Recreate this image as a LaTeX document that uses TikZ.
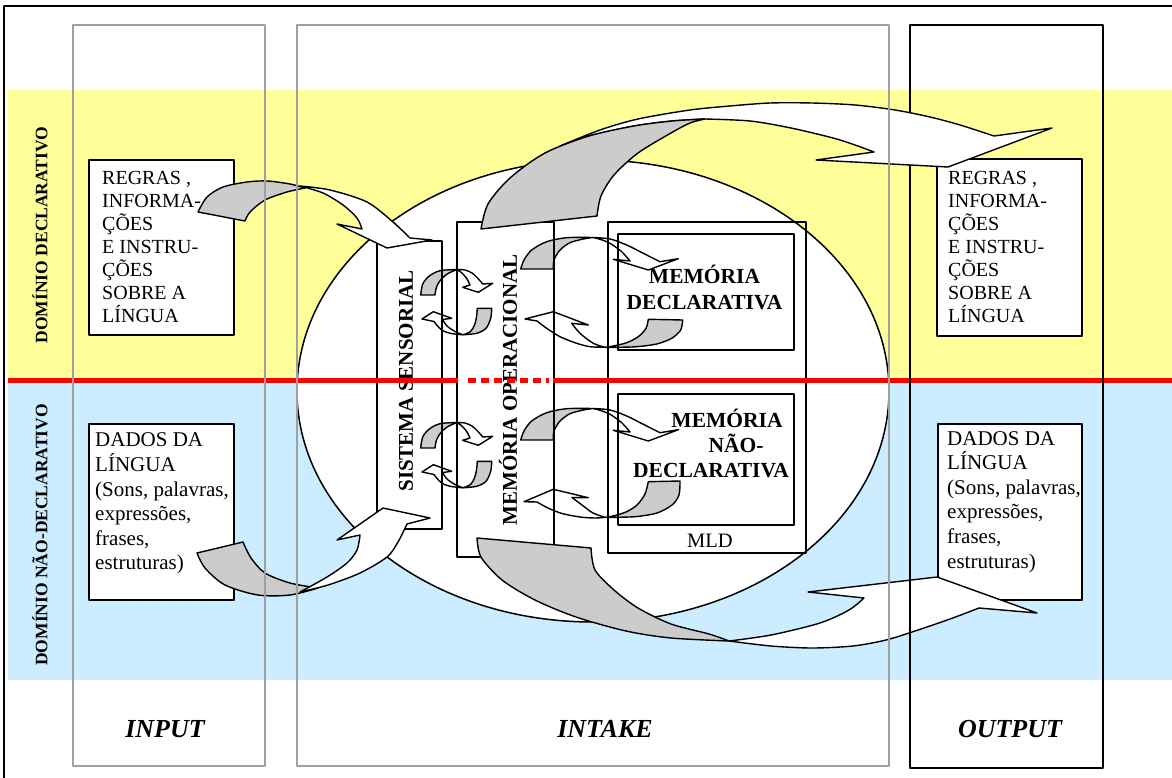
\documentclass[tikz,border=0pt]{standalone}
\usepackage{fontspec}
\setmainfont{Liberation Serif}
\definecolor{bandyellow}{HTML}{FFFF99}
\definecolor{bandblue}{HTML}{CCECFF}
\definecolor{ribbongray}{HTML}{CCCCCC}
\definecolor{columngray}{HTML}{A0A0A0}
\definecolor{domainred}{HTML}{FF0000}

% one pair of small cycling arrows (upper arrow: tail left, head right;
% lower arrow: tail right, head left)
\newcommand\smallcycleA{%
  \filldraw[backface] plot[smooth] coordinates {(420.7,295) (422.7,284) (429.3,276) (440,270.7) (457,269.5)}
    -- plot[smooth] coordinates {(457,269.5) (448,273.5) (441,279.5) (436.5,287) (435,295)} -- cycle;
  \filldraw[frontface] plot[smooth] coordinates {(457,269.5) (465,270) (472,273) (478,278.5) (482.7,284)}
    -- (492.7,283.3) -- (478.3,292.3) -- (462.7,287.3) -- (470,285)
    -- plot[smooth] coordinates {(470,285) (467,279) (462.5,273.5) (457,269.5)} -- cycle;
  \filldraw[backface] plot[smooth] coordinates {(491.7,308.3) (490.7,318.3) (486,328.3) (476.7,333.3) (463,334.8)}
    -- plot[smooth] coordinates {(463,334.8) (470.5,331.5) (474.5,325) (476.5,317) (477.3,308.3)} -- cycle;
  \filldraw[frontface] plot[smooth] coordinates {(463,334.8) (450,333.3) (441.7,330) (436.7,325) (434,321.5)}
    -- (422,319) -- (433.3,311.7) -- (451.7,318.3) -- (442.5,319.5)
    -- plot[smooth] coordinates {(442.5,319.5) (447,326) (455,331.5) (463,334.8)} -- cycle;
}
\newcommand\largecycleUpper{%
  \filldraw[backface] plot[smooth] coordinates {(520.7,269) (524,260) (531.7,250) (546.7,241.7) (566.7,237.7) (593,237.5)}
    -- plot[smooth] coordinates {(593,237.5) (583.3,239) (570,242.7) (560,250) (554,260) (553.3,269)} -- cycle;
  \filldraw[frontface] plot[smooth] coordinates {(593,237.5) (610,239) (626.7,245) (643.3,253.3) (660,261.7)}
    -- (678.3,258.7) -- (648.3,270) -- (613.3,259.3) -- (630,261)
    -- plot[smooth] coordinates {(630,261) (621.7,251.7) (610,243.3) (600,239.3) (593,237.5)} -- cycle;
}

\begin{document}
\begin{tikzpicture}[x=1pt,y=-1pt,line join=round,
  ribbon/.style={draw=black,line width=1.4pt},
  backface/.style={ribbon,fill=ribbongray},
  frontface/.style={ribbon,fill=white},
  column/.style={draw=columngray,line width=1.8pt},
  outcolumn/.style={draw=black,line width=1.8pt},
  framebox/.style={draw=black,line width=1.6pt,rectangle,inner sep=0pt,anchor=north west},
  boxtext/.style={align=left,anchor=north west,inner sep=0pt},
  rulesfont/.style={font=\fontsize{20}{23}\selectfont},
  datafont/.style={font=\fontsize{21}{24.6}\selectfont},
  verticallabel/.style={rotate=90,font=\fontsize{21}{25}\selectfont\bfseries,inner sep=0pt},
  domainlabel/.style={rotate=90,font=\fontsize{17.5}{20}\selectfont\bfseries,inner sep=0pt},
  memlabel/.style={anchor=base,inner sep=0pt,font=\fontsize{21.5}{25}\selectfont\bfseries},
  phaselabel/.style={anchor=base,inner sep=0pt,font=\fontsize{26}{30}\selectfont\bfseries\itshape},
  redline/.style={draw=domainred,line width=5pt}]

\useasboundingbox (0,0) rectangle (1172,778);
\fill[white] (0,0) rectangle (1172,778);

% domain bands
\fill[bandyellow] (8,90) rectangle (1172,380);
\fill[bandblue] (8,380) rectangle (1172,680);

% outer frame
\draw[line width=1.6pt] (4,778) -- (4,6) -- (1172,6);

% intake ellipse
\filldraw[fill=white,draw=black,line width=1.5pt] (593,391) ellipse [x radius=296,y radius=231];

% cycling arrows between the memory stores
\smallcycleA
\begin{scope}[shift={(0,153)}]
  \smallcycleA
\end{scope}
\largecycleUpper
\filldraw[backface] plot[smooth] coordinates {(682.7,320) (680.7,330) (671.7,338.3) (656.7,344) (636.7,346.7) (616.7,347.3) (605,347.3)}
  -- plot[smooth] coordinates {(605,347.3) (613.3,346) (626.7,342.7) (638.3,336.7) (646,328.3) (648.3,319.3)} -- cycle;
\filldraw[frontface] plot[smooth] coordinates {(605,347.3) (590,346.7) (576.7,343.3) (560,336.7) (546.7,328.3) (537,321)}
  -- (525,319) -- (553.3,311.7) -- (588.3,325) -- (571.7,323.3)
  -- plot[smooth] coordinates {(571.7,323.3) (580,333.3) (593.3,343.3) (605,347.3)} -- cycle;
\begin{scope}[shift={(0,171)}]
  \largecycleUpper
\end{scope}
\filldraw[backface] plot[smooth] coordinates {(680,481) (679,495) (672,505) (657,513) (637,516.5) (617,517.3) (605,517.3)}
  -- plot[smooth] coordinates {(605,517.3) (613,516) (626,512) (637,505) (645,494) (648.3,481.7)} -- cycle;
\filldraw[frontface] plot[smooth] coordinates {(605,517.3) (595,518) (580,517) (562,513.5) (548,508) (537,502)}
  -- (524,501.7) -- (553.3,489.3) -- (588.3,497.7) -- (572,497.5)
  -- plot[smooth] coordinates {(572,497.5) (582,505) (593,513) (605,517.3)} -- cycle;

% memory stores
\node[framebox,minimum width=65pt,minimum height=288pt] (sensory) at (376,240) {};
\node[verticallabel] (sensorytxt) at (406,381) {SISTEMA SENSORIAL};
\node[framebox,minimum width=97pt,minimum height=335pt] (working) at (456,221) {};
\node[verticallabel] (workingtxt) at (508,390) {MEMÓRIA OPERACIONAL};
\node[framebox,minimum width=198pt,minimum height=331pt] (mld) at (607,221) {};
\node[framebox,minimum width=176pt,minimum height=116pt] (decl) at (617,233) {};
\node[framebox,minimum width=176pt,minimum height=131pt] (nondecl) at (617,393) {};
\node[memlabel] (decl1) at (704.5,283) {MEMÓRIA};
\node[memlabel] (decl2) at (704.5,309) {DECLARATIVA};
\node[memlabel] (nondecl1) at (727,427) {MEMÓRIA};
\node[memlabel] (nondecl2) at (736,452) {NÃO-};
\node[memlabel] (nondecl3) at (711,477) {DECLARATIVA};
\node[anchor=base,inner sep=0pt,font=\fontsize{20.5}{24}\selectfont] (mldtxt) at (710,547) {MLD};

% boundary between the two domains
\draw[redline] (8,380) -- (458,380);
\draw[redline] (553,380) -- (1172,380);
\draw[redline,dash pattern=on 8pt off 5pt] (468,380) -- (549,380);

% domain labels
\node[domainlabel] (decldomain) at (40,235) {DOMÍNIO DECLARATIVO};
\node[domainlabel] (nondecldomain) at (40,535) {DOMÍNIO NÃO-DECLARATIVO};

% text boxes
\node[framebox,fill=white,minimum width=145pt,minimum height=175pt] (inrules) at (88,159) {};
\node[boxtext,rulesfont] (inrulestxt) at (102,171.5)
  {REGRAS ,\\INFORMA-\\ÇÕES\\E INSTRU-\\ÇÕES\\SOBRE A\\LÍNGUA};
\node[framebox,fill=white,minimum width=145pt,minimum height=176pt] (indata) at (88,423) {};
\node[boxtext,datafont] (indatatxt) at (95,432.8)
  {DADOS DA\\LÍNGUA\\(Sons, palavras,\\expressões,\\frases,\\estruturas)};
\node[framebox,fill=white,minimum width=145pt,minimum height=177pt] (outrules) at (936,158) {};
\node[boxtext,rulesfont] (outrulestxt) at (948,171)
  {REGRAS ,\\INFORMA-\\ÇÕES\\E INSTRU-\\ÇÕES\\SOBRE A\\LÍNGUA};
\node[framebox,fill=white,minimum width=144pt,minimum height=176pt] (outdata) at (937,423) {};
\node[boxtext,datafont] (outdatatxt) at (947,431)
  {DADOS DA\\LÍNGUA\\(Sons, palavras,\\expressões,\\frases,\\estruturas)};

% curved arrow: rules into the sensory system
\filldraw[backface] plot[smooth] coordinates {(198,212) (207,197) (223,187) (247,182) (267,181) (290,184) (305,188)}
  -- plot[smooth] coordinates {(305,188) (287,192) (265,200) (250,212) (245,221)} -- cycle;
\filldraw[frontface] plot[smooth] coordinates {(300,186) (330,190) (367,202) (393,222) (410,238)}
  -- (432,240) -- (387,248) -- (337,224) -- (362,229)
  -- plot[smooth] coordinates {(362,229) (357,218) (343,205) (323,193) (300,186)} -- cycle;

% curved arrow: language data into the sensory system
\filldraw[backface] plot[smooth] coordinates {(197,553) (205,568) (225,585) (258,595) (290,595) (318,588)}
  -- plot[smooth] coordinates {(318,588) (290,583) (265,573) (251,558) (243,542)} -- cycle;
\filldraw[frontface] plot[smooth] coordinates {(300,592) (328,585) (360,573) (387,557) (398,542) (407,524)}
  -- (430,518) -- (383,508) -- (337,540) -- (360,535)
  -- plot[smooth] coordinates {(360,535) (357,550) (347,563) (327,577) (300,592)} -- cycle;

% curved arrow: working memory out to language data
\filldraw[backface] plot[smooth] coordinates {(477,538) (481,557) (502,580) (535,600) (576,617) (626,631) (671,638) (729,641)}
  -- plot[smooth] coordinates {(729,641) (709,634) (671,624) (638,608) (614,590) (595,570) (591,548)} -- cycle;
\filldraw[frontface] plot[smooth] coordinates {(729,641) (771,646) (812,648) (853,646) (886,640) (915,631) (950,619) (979,608)}
  -- (1037,613) -- (937,577) -- (808,592) -- (864,598)
  -- plot[smooth] coordinates {(864,598) (849,610) (820,623) (771,635) (729,641)} -- cycle;

% output column
\draw[outcolumn] (910,25) rectangle (1103,768);

% curved arrow: working memory out to rules
\filldraw[frontface] plot[smooth] coordinates {(560,146) (600,130) (638,119) (690,110) (730,106) (770,103) (812,103) (855,105) (895,110) (930,117) (960,125) (994,136)}
  -- (1052,128) -- (948,167) -- (816,160) -- (874,152)
  -- plot[smooth] coordinates {(874,152) (855,145) (833,138) (791,128) (750,121) (705,119)}
  -- plot[smooth] coordinates {(705,119) (672,121) (634,126) (589,136) (560,146)} -- cycle;
\filldraw[backface] plot[smooth] coordinates {(481,229) (488,204) (510,178) (545,153) (589,136) (634,126) (672,121) (705,119)}
  -- plot[smooth] coordinates {(705,119) (690,123) (671,133) (638,153) (614,175) (601,196) (597,216)} -- cycle;

% input and intake columns
\draw[column] (73,25) rectangle (265,766);
\draw[column] (297,25) rectangle (889,766);

% phase labels
\node[phaselabel] (input) at (165,737) {INPUT};
\node[phaselabel] (intake) at (605,737) {INTAKE};
\node[phaselabel] (output) at (1010,737) {OUTPUT};
\end{tikzpicture}
\end{document}
